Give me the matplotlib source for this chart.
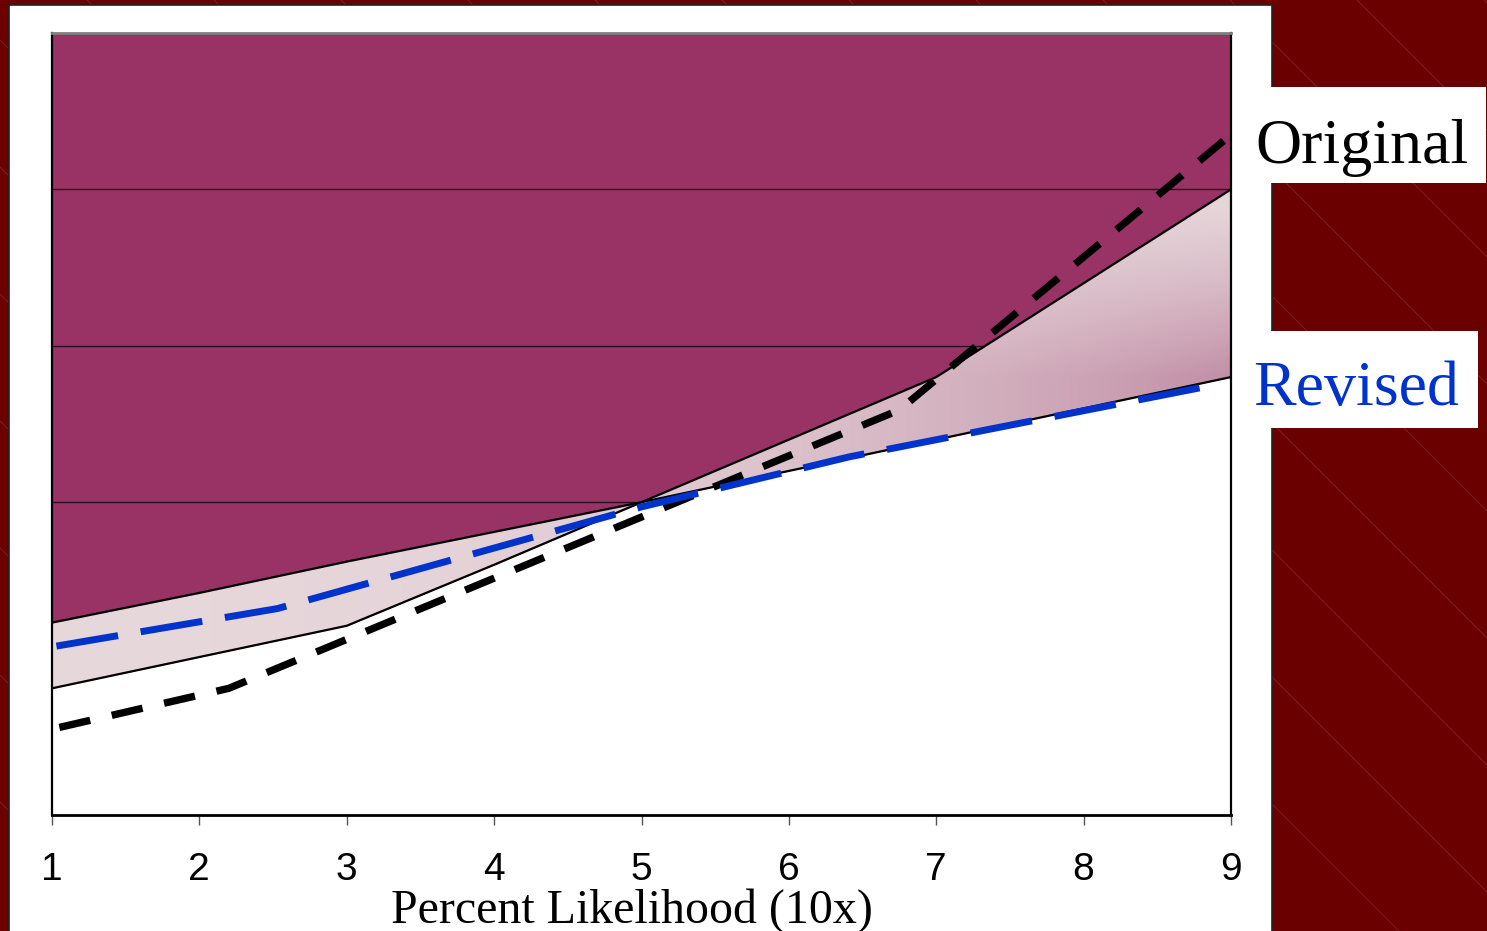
import numpy as np
import matplotlib
matplotlib.use('Agg')
import matplotlib.pyplot as plt
from matplotlib.path import Path
from matplotlib.patches import Rectangle

# data
likelihood = [1, 2, 3, 4, 5, 6, 7, 8, 9]
original = [0.81, 1.01, 1.21, 1.6, 2.0, 2.4, 2.8, 3.4, 4.0]
revised = [1.23, 1.42, 1.62, 1.81, 2.0, 2.2, 2.4, 2.6, 2.8]

# hand drawn dashed trend lines
trend_orig_x = [1.05, 2.2, 6.75, 9.0]
trend_orig_y = [0.56, 0.81, 2.59, 4.35]
trend_rev_x = [1.03, 2.53, 5.0, 6.41, 8.89]
trend_rev_y = [1.08, 1.32, 1.97, 2.29, 2.75]

tick_labels = ['1', '2', '3', '4', '5', '6', '7', '8', '9']
x_title = 'Percent Likelihood (10x)'

W, H = 1487, 931
fig = plt.figure(figsize=(W / 100, H / 100), dpi=100)
fig.patch.set_facecolor('#6b0000')

# background: diagonal stripes, white panel, label boxes
deco = fig.add_axes([0, 0, 1, 1], zorder=-10)
deco.set_xlim(0, W)
deco.set_ylim(H, 0)
deco.axis('off')
for k in range(-12, 14):
    c = 722 + 127 * k
    deco.plot([0, W], [0 - c, W - c], color='#8e3a3a', lw=0.6, alpha=0.6, zorder=0)
deco.add_patch(Rectangle((9, 5), 1263, 940, facecolor='white',
                         edgecolor='#222222', lw=1.2, zorder=1))
deco.add_patch(Rectangle((1233, 87), 253, 96, facecolor='white', lw=0, zorder=2))
deco.add_patch(Rectangle((1233, 331), 245, 97, facecolor='white', lw=0, zorder=2))
deco.text(1255, 163, 'Original', fontsize=46, family='Liberation Serif',
          color='black', va='baseline', ha='left', zorder=3)
deco.text(1253, 405, 'Revised', fontsize=46, family='Liberation Serif',
          color='#0033cc', va='baseline', ha='left', zorder=3)

ax = fig.add_axes([52 / W, 1 - 815 / H, 1179 / W, 782 / H])
ax.set_facecolor('#993366')
ax.set_xlim(1, 9)
ax.set_ylim(0, 5)

x = np.array(likelihood, dtype=float)
orig = np.array(original)
rev = np.array(revised)
hi = np.maximum(orig, rev)
lo = np.minimum(orig, rev)

ax.set_axisbelow(True)
ax.set_yticks([1, 2, 3, 4])
ax.grid(axis='y', color='#2a0f1e', lw=1.0)

ax.fill_between(x, 0, lo, color='white', lw=0, zorder=1)

# gradient between the two curves
gx, gy = np.meshgrid(np.linspace(1, 9, 400), np.linspace(0, 5, 300))
t = ((gx - 1) / 8) ** 2.5 * np.clip((4.0 - gy) / 1.2, 0, 1) ** 1.3
light = np.array([0.905, 0.845, 0.86])
dark = np.array([0.76, 0.56, 0.65])
img = light + (dark - light) * t[..., None]
im = ax.imshow(img, extent=[1, 9, 0, 5], origin='lower', aspect='auto',
               zorder=1, interpolation='bilinear')
verts = list(zip(x, hi)) + list(zip(x[::-1], lo[::-1]))
clip = Path(verts + [verts[0]], closed=True)
im.set_clip_path(clip, transform=ax.transData)

ax.plot(x, orig, color='black', lw=1.6, zorder=2)
ax.plot(x, rev, color='black', lw=1.6, zorder=2)

ax.plot(trend_orig_x, trend_orig_y, color='black', lw=5.3,
        dashes=(4.3, 3.0), solid_capstyle='butt', dash_capstyle='butt', zorder=3)
ax.plot(trend_rev_x, trend_rev_y, color='#0033cc', lw=5,
        dashes=(9.0, 3.3), solid_capstyle='butt', dash_capstyle='butt', zorder=3)

ax.set_xticks(likelihood)
ax.set_xticklabels(tick_labels, fontsize=28, family='Liberation Sans')
ax.tick_params(axis='x', direction='out', length=7, width=1, color='#555555', pad=20)
ax.tick_params(axis='y', length=0, labelleft=False)

for side in ['left', 'right', 'bottom']:
    ax.spines[side].set_color('black')
    ax.spines[side].set_linewidth(1.6)
ax.spines['bottom'].set_linewidth(2)
ax.spines['top'].set_color('#808080')
ax.spines['top'].set_linewidth(2)

fig.text(632 / W, 1 - 923 / H, x_title, fontsize=34.5, family='Liberation Serif',
         ha='center', va='baseline')

fig.savefig('out.png', dpi=100, facecolor=fig.get_facecolor())
